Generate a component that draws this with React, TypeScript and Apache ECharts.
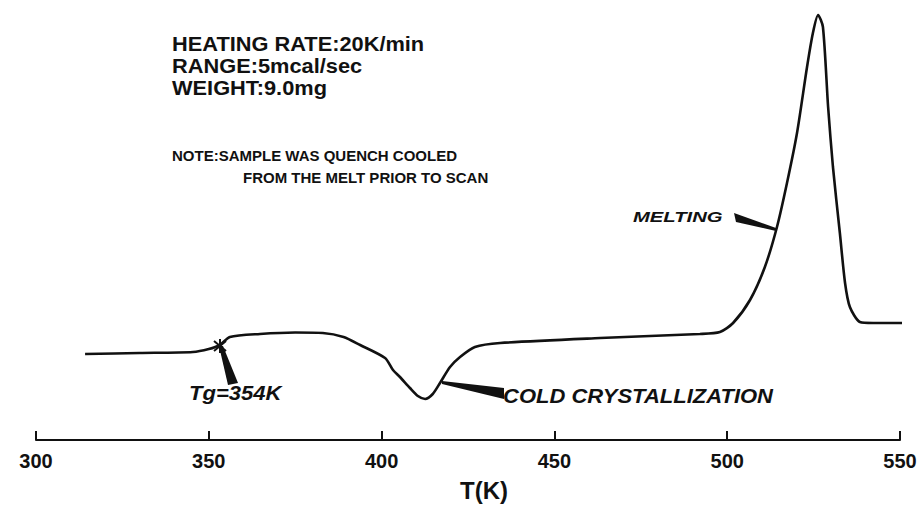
import React, { useEffect, useRef } from "react";
import * as echarts from "echarts";

// Temperature (K) of each traced point of the DSC scan
const temperatureK = [
  314.2, 330.0, 345.4, 350.0, 353.2, 356.1, 364.8, 375.0, 383.0, 389.0, 393.8,
  401.0, 403.3, 405.3, 408.2, 410.5, 412.6, 414.8, 416.9, 419.8, 422.7, 427.0,
  434.3, 463.2, 492.1, 497.9, 501.7, 506.6, 510.9, 514.4, 517.3, 520.2, 523.1,
  524.8, 526.3, 527.7, 529.2, 530.6, 532.6, 534.1, 535.5, 538.4, 542.2, 552.9,
];
// Heat flow (arbitrary units, endotherm up)
const heatFlow = [
  8.6, 8.7, 8.8, 9.1, 9.5, 10.3, 10.6, 10.75, 10.7, 10.3, 9.5,
  8.2, 7.0, 6.3, 5.2, 4.4, 4.1, 4.6, 5.7, 7.3, 8.3, 9.3,
  9.7, 10.2, 10.6, 10.8, 11.7, 14.0, 17.3, 21.3, 25.7, 30.7, 37.3,
  40.7, 42.5, 41.3, 33.3, 27.3, 20.7, 15.7, 13.3, 11.8, 11.7, 11.7,
];
const xTicks = { min: 300, max: 550, step: 50 };
const infoLines = ["HEATING RATE:20K/min", "RANGE:5mcal/sec", "WEIGHT:9.0mg"];
const noteLines = ["NOTE:SAMPLE WAS QUENCH COOLED", "FROM THE MELT PRIOR TO SCAN"];
const eventLabels = { tg: "Tg=354K", melting: "MELTING", cold: "COLD CRYSTALLIZATION" };

const INK = "#111";
const FONT = '"Liberation Sans", Arial, sans-serif';

export default function App() {
  const ref = useRef<HTMLDivElement>(null);
  useEffect(() => {
    if (!ref.current) return;
    const chart = echarts.init(ref.current, undefined, { renderer: "svg" });
    const data = temperatureK.map((t, i) => [t, heatFlow[i]]);
    chart.setOption({
      animation: false,
      backgroundColor: "#fff",
      grid: { left: 36, right: 20, top: 10, bottom: 66, outerBoundsMode: "none", containLabel: false },
      xAxis: {
        type: "value",
        min: xTicks.min,
        max: xTicks.max,
        interval: xTicks.step,
        name: "T(K)",
        nameLocation: "middle",
        nameGap: 38,
        nameTextStyle: {
          color: INK,
          fontSize: 24,
          lineHeight: 24,
          fontWeight: "bold",
          fontFamily: FONT,
          padding: [0, 0, 0, 32],
        },
        axisLine: { lineStyle: { color: INK, width: 2 } },
        axisTick: { inside: true, length: 9, lineStyle: { color: INK, width: 2 } },
        axisLabel: { color: INK, fontSize: 20, fontWeight: "bold", fontFamily: FONT, margin: 11 },
        splitLine: { show: false },
      },
      yAxis: { type: "value", min: 0, max: 43, show: false },
      series: [
        {
          type: "line",
          data,
          smooth: 0.25,
          clip: false,
          showSymbol: false,
          lineStyle: { color: INK, width: 2.6 },
        },
      ],
      graphic: [
        ...infoLines.map((t, i) => ({
          type: "text",
          x: 172,
          y: 34 + i * 22,
          scaleX: 1.09,
          style: { text: t, font: `bold 20px ${FONT}`, fill: INK },
        })),
        {
          type: "text",
          left: 172,
          top: 148,
          style: { text: noteLines[0], font: `bold 15px ${FONT}`, fill: INK },
        },
        {
          type: "text",
          left: 243,
          top: 170,
          style: { text: noteLines[1], font: `bold 15px ${FONT}`, fill: INK },
        },
        {
          type: "text",
          x: 189,
          y: 383,
          scaleX: 1.05,
          style: { text: eventLabels.tg, font: `italic bold 21px ${FONT}`, fill: INK },
        },
        {
          type: "text",
          x: 633,
          y: 209,
          scaleX: 1.35,
          style: { text: eventLabels.melting, font: `italic bold 15px ${FONT}`, fill: INK },
        },
        {
          type: "text",
          x: 503,
          y: 386,
          scaleX: 1.1,
          style: { text: eventLabels.cold, font: `italic bold 20px ${FONT}`, fill: INK },
        },
        {
          type: "polygon",
          shape: { points: [[219, 346], [223, 346], [238, 383], [228, 385]] },
          style: { fill: INK },
        },
        {
          type: "polygon",
          shape: { points: [[734, 213], [736, 222], [776, 231], [776, 228]] },
          style: { fill: INK },
        },
        {
          type: "polygon",
          shape: { points: [[442, 381], [442, 384], [504, 399], [504, 388]] },
          style: { fill: INK },
        },
        { type: "line", shape: { x1: 214, y1: 341, x2: 226, y2: 351 }, style: { stroke: INK, lineWidth: 2 } },
        { type: "line", shape: { x1: 214, y1: 351, x2: 226, y2: 341 }, style: { stroke: INK, lineWidth: 2 } },
        { type: "line", shape: { x1: 220, y1: 339, x2: 220, y2: 353 }, style: { stroke: INK, lineWidth: 2 } },
      ],
    });
    return () => chart.dispose();
  }, []);
  return (
    <div
      ref={ref}
      style={{ position: "fixed", left: 0, top: 0, width: 920, height: 506, background: "#fff" }}
    />
  );
}
